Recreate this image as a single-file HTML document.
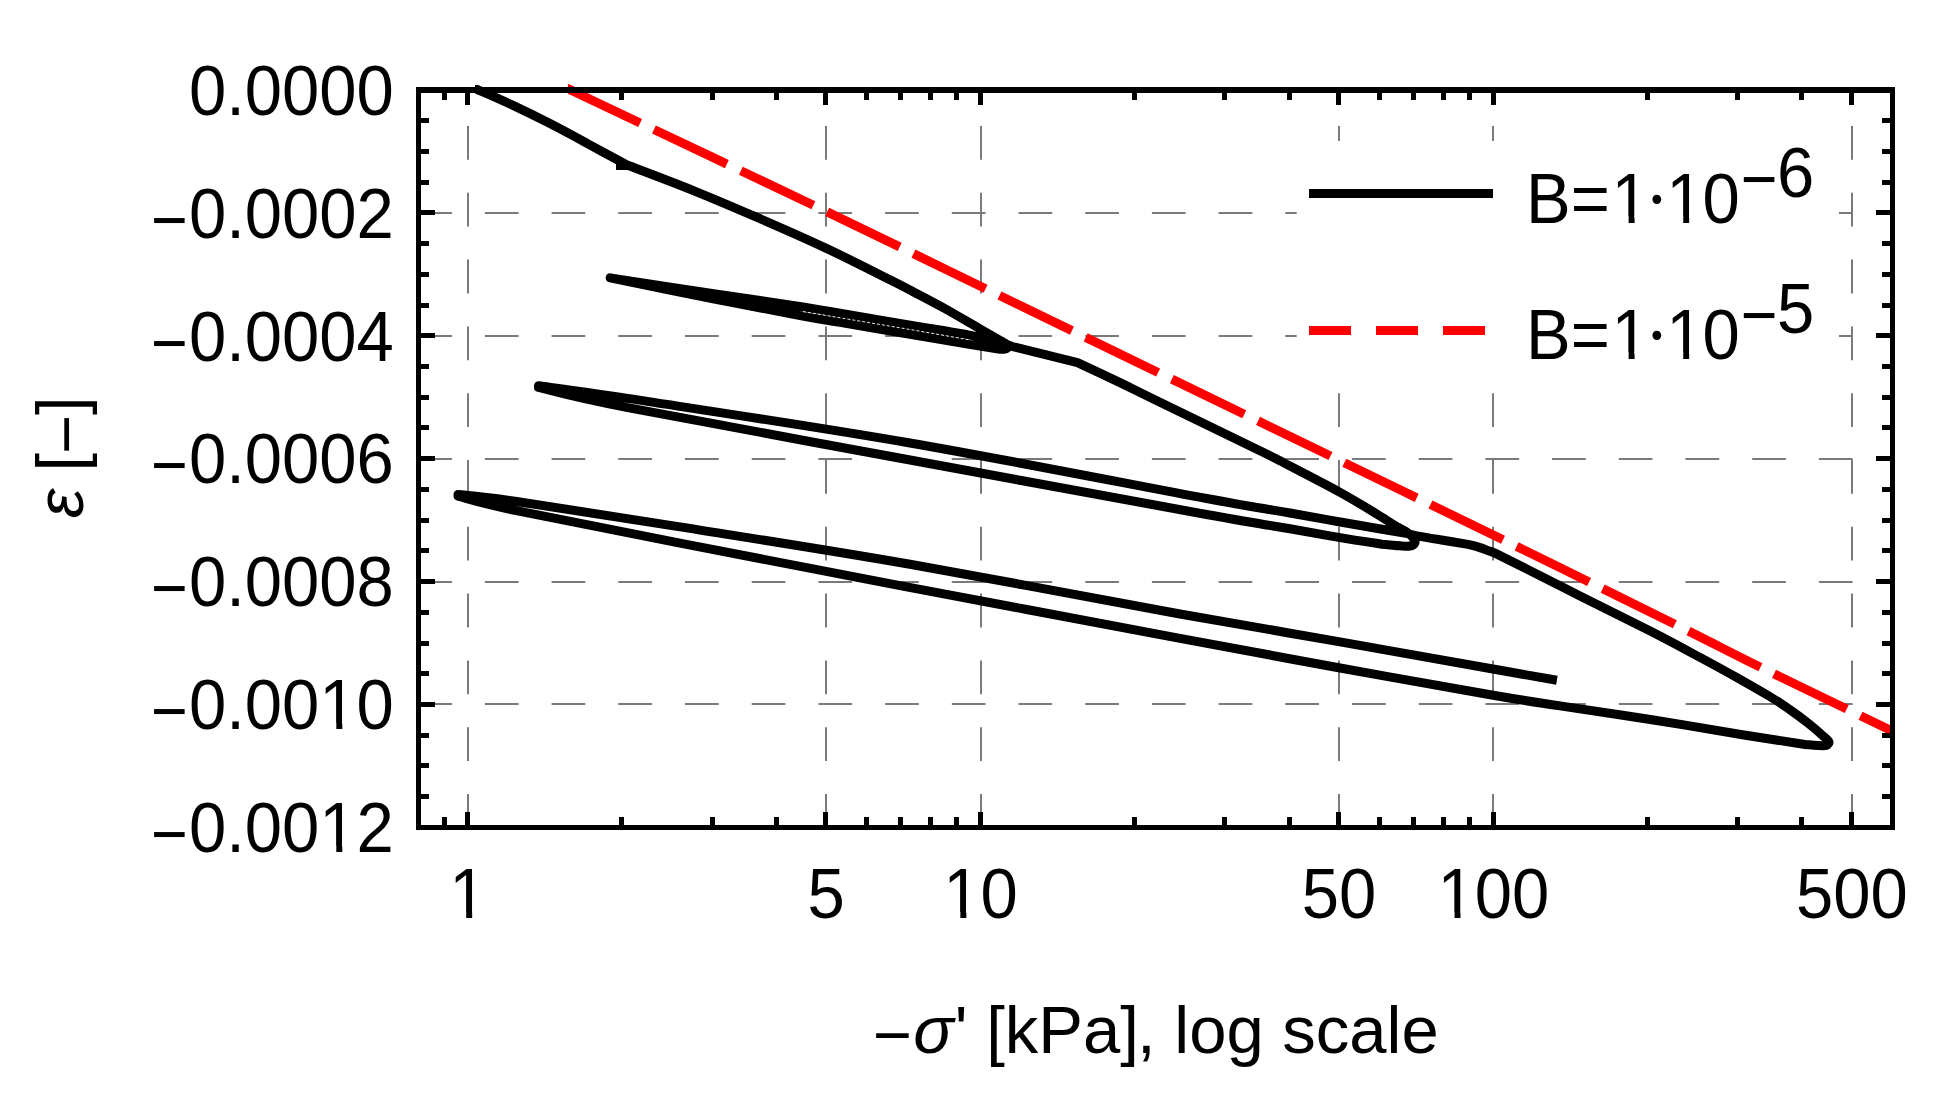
<!DOCTYPE html>
<html lang="en"><head><meta charset="utf-8"><title>Strain vs stress, log scale</title>
<style>html,body{margin:0;padding:0;background:#fff}body{width:1958px;height:1109px;overflow:hidden}svg{display:block}text{font-family:"Liberation Sans",sans-serif;font-size:67px;fill:#000}</style>
</head><body>
<svg width="1958" height="1109" viewBox="0 0 1958 1109">
<rect x="0" y="0" width="1958" height="1109" fill="#fff"/>
<g id="grid" stroke="#7a7a7a" stroke-width="2" stroke-dasharray="33.7 33" fill="none">
<line x1="468" y1="827.8" x2="468" y2="90" stroke-dasharray="33.8 33"/>
<line x1="826" y1="827.8" x2="826" y2="90" stroke-dasharray="33.8 33"/>
<line x1="981" y1="827.8" x2="981" y2="90" stroke-dasharray="33.8 33"/>
<line x1="1339" y1="827.8" x2="1339" y2="90" stroke-dasharray="33.8 33"/>
<line x1="1493" y1="827.8" x2="1493" y2="90" stroke-dasharray="33.8 33"/>
<line x1="1852" y1="827.8" x2="1852" y2="90" stroke-dasharray="33.8 33"/>
<line x1="418.2" y1="213" x2="1893" y2="213"/>
<line x1="418.2" y1="336" x2="1893" y2="336"/>
<line x1="418.2" y1="459" x2="1893" y2="459"/>
<line x1="418.2" y1="582" x2="1893" y2="582"/>
<line x1="418.2" y1="704" x2="1893" y2="704"/>
</g>
<rect id="legendbg" x="1296.7" y="141" width="542.3" height="252" fill="#fff"/>
<defs><clipPath id="plotclip"><rect x="418.5" y="80" width="1474" height="747"/></clipPath><clipPath id="clipB"><path d="M475 85H1892.5V827H418.5V130H475Z"/></clipPath><clipPath id="clipR"><rect x="567.9" y="80" width="1324.6" height="747"/></clipPath></defs>
<g id="curves" clip-path="url(#plotclip)" fill="none" stroke-linejoin="round" stroke-linecap="butt">
<g clip-path="url(#clipR)"><path id="series2" d="M567.5 88.6 C610.7 109.1 754.7 177.1 826.6 211.6 C898.5 246.1 941.6 267.4 999.0 295.3 C1056.4 323.2 1113.8 350.9 1171.2 378.8 C1228.7 406.6 1286.2 434.6 1343.8 462.5 C1401.2 490.4 1461.0 519.2 1516.2 546.2 C1571.5 573.2 1634.7 604.4 1675.3 624.5 C1715.9 644.6 1731.5 653.0 1760.0 667.0 C1788.5 681.0 1824.0 698.0 1846.2 708.8 C1868.4 719.5 1882.4 726.3 1893.0 731.5 C1903.6 736.7 1907.2 738.4 1910.0 739.8" stroke="#f00" stroke-width="9.0" stroke-dasharray="80.5 15.3"/><path d="M563 86.5L572 90.7" stroke="#f00" stroke-width="9.0"/></g>
<g id="series1" stroke="#000" stroke-width="9.0" clip-path="url(#clipB)">
<path d="M466.0 84.4 C467.8 85.2 469.2 85.8 477.0 89.3 C484.8 92.8 500.3 99.5 512.5 105.2 C524.7 110.9 537.5 117.2 550.0 123.6 C562.5 130.0 574.8 136.7 587.5 143.6 C600.2 150.5 620.0 161.3 626.5 164.8 C637.8 169.1 671.8 181.8 694.0 190.8 C716.2 199.8 738.0 209.1 760.0 218.7 C782.0 228.2 804.2 237.9 825.8 248.1 C847.4 258.2 875.0 272.3 889.5 279.6 C904.0 286.9 903.9 286.9 913.1 291.7 C922.4 296.5 933.9 302.5 945.0 308.6 C956.1 314.8 970.3 323.3 979.5 328.6 C988.7 333.9 995.4 337.6 1000.0 340.3 C1004.6 343.0 1005.7 343.6 1007.0 344.8 C1008.3 346.0 1008.4 346.6 1008.0 347.3 C1007.6 348.0 1005.8 348.9 1004.5 349.2 C1003.2 349.5 1000.8 349.3 1000.0 349.3 C995.1 348.5 985.3 347.0 970.8 344.6 C956.3 342.2 934.9 338.5 913.1 334.8 C891.3 331.1 858.4 325.5 840.0 322.4 C821.6 319.3 823.2 319.9 802.8 316.1 C782.2 312.3 749.1 306.0 717.0 299.6 C684.9 293.2 628.0 281.5 610.2 277.9 C628.0 280.6 684.9 289.3 717.0 294.1 C749.1 298.9 782.2 303.7 802.8 306.9 C823.2 310.1 821.6 310.1 840.0 313.2 C858.4 316.3 891.3 321.9 913.1 325.6 C934.9 329.3 956.3 332.7 970.8 335.4 C985.3 338.1 993.1 340.1 1000.0 342.0 C1006.9 343.9 1010.0 345.8 1012.0 346.5 L1077.5 362.6 C1084.6 365.9 1106.2 376.0 1120.0 382.6 C1133.8 389.2 1136.3 390.7 1160.0 402.2 C1183.7 413.7 1240.3 441.2 1262.0 451.8 C1283.7 462.4 1281.2 461.5 1290.0 466.0 C1298.8 470.5 1306.9 474.7 1315.0 479.0 C1323.1 483.3 1331.2 487.5 1338.7 491.6 C1346.2 495.7 1353.7 500.1 1360.0 503.8 C1366.3 507.5 1370.1 510.0 1376.5 513.9 C1382.9 517.8 1393.2 524.4 1398.2 527.4 C1403.2 530.4 1404.1 530.0 1406.8 532.0 C1409.5 534.0 1413.0 537.6 1414.3 539.5 C1415.6 541.4 1415.2 542.4 1414.5 543.5 C1413.8 544.6 1412.4 545.6 1410.0 546.0 C1407.6 546.4 1404.7 546.1 1400.0 545.8 C1395.3 545.5 1385.0 544.5 1382.0 544.2 C1374.8 543.1 1354.0 540.0 1338.7 537.4 C1323.4 534.8 1312.0 532.5 1290.0 528.7 C1268.0 524.9 1269.9 526.0 1206.6 514.5 C1143.3 503.1 1006.5 477.8 910.0 460.0 C813.5 442.2 689.6 419.7 627.7 407.6 C565.8 395.5 553.4 390.8 538.5 387.4 L538.5 385.8 C553.4 387.9 565.8 388.9 627.7 398.4 C689.6 408.0 813.5 426.3 910.0 443.0 C1006.5 459.7 1143.3 486.8 1206.6 498.5 C1269.9 510.2 1268.0 509.1 1290.0 513.0 C1312.0 516.9 1323.4 519.0 1338.7 521.7 C1354.0 524.4 1370.5 527.2 1382.0 529.2 C1393.5 531.2 1403.2 532.9 1407.5 533.6 C1409.5 534.0 1414.4 535.3 1419.8 536.3 C1425.2 537.3 1432.0 538.4 1440.0 539.7 C1448.0 541.1 1463.3 543.6 1468.0 544.4 C1469.5 544.8 1473.7 545.6 1477.0 546.6 C1480.3 547.6 1484.2 549.1 1488.0 550.6 C1491.8 552.1 1489.8 550.6 1500.0 555.6 C1510.2 560.6 1536.2 573.8 1549.5 580.5 C1562.8 587.2 1562.9 587.3 1580.0 595.9 C1597.1 604.5 1632.2 621.9 1652.2 632.1 C1672.2 642.4 1686.0 649.9 1700.0 657.4 C1714.0 664.9 1724.1 670.4 1736.1 677.2 C1748.1 684.0 1763.2 692.6 1772.2 698.0 C1781.2 703.4 1784.0 705.6 1790.0 709.8 C1796.0 714.0 1802.9 719.1 1808.2 723.3 C1813.5 727.5 1818.4 731.8 1821.8 734.8 C1825.2 737.8 1827.4 739.4 1828.4 741.0 C1829.4 742.6 1828.7 743.7 1827.8 744.5 C1826.9 745.3 1826.8 745.7 1823.0 745.7 C1819.2 745.7 1808.1 744.7 1805.1 744.5 C1794.9 742.9 1769.4 739.1 1743.9 735.0 C1718.4 730.9 1682.6 724.6 1651.9 719.7 C1621.2 714.9 1586.5 710.0 1560.0 705.9 C1533.5 701.8 1530.1 701.6 1493.2 695.2 C1456.3 688.8 1390.9 677.2 1338.7 667.7 C1286.5 658.2 1253.1 652.0 1180.0 638.3 C1106.9 624.6 983.3 601.4 900.0 585.6 C816.7 569.8 744.2 555.8 680.0 543.2 C615.8 530.7 552.0 518.2 515.0 510.4 C478.0 502.5 467.5 498.5 458.0 496.1 L458.0 494.5 C467.5 495.6 478.0 495.8 515.0 501.2 C552.0 506.6 614.2 516.4 680.0 526.9 C745.8 537.4 826.7 549.8 910.0 564.3 C993.3 578.8 1108.5 601.1 1180.0 614.0 C1251.5 626.9 1285.4 632.2 1338.7 641.6 C1392.0 651.0 1463.6 663.8 1500.0 670.3 C1536.4 676.8 1547.4 678.6 1556.9 680.3"/>
<path d="M616 166H630" stroke-width="8.2"/>
</g>
<path d="M803 311.6L840 317.8L913 330L971 340.1" stroke="#fff" stroke-width="0.9" stroke-dasharray="3 2"/>
</g>
<g id="ticks" stroke="#000" stroke-width="5" fill="none">
<path d="M467.5 827.5V812.0M467.5 90.0V105.0"/>
<path d="M825.5 827.5V812.0M825.5 90.0V105.0"/>
<path d="M980.5 827.5V812.0M980.5 90.0V105.0"/>
<path d="M1338.5 827.5V812.0M1338.5 90.0V105.0"/>
<path d="M1493.5 827.5V812.0M1493.5 90.0V105.0"/>
<path d="M1851.5 827.5V812.0M1851.5 90.0V105.0"/>
<path d="M444.5 827.5V817.0M444.5 90.0V100.0"/>
<path d="M621.5 827.5V817.0M621.5 90.0V100.0"/>
<path d="M712.5 827.5V817.0M712.5 90.0V100.0"/>
<path d="M776.5 827.5V817.0M776.5 90.0V100.0"/>
<path d="M866.5 827.5V817.0M866.5 90.0V100.0"/>
<path d="M900.5 827.5V817.0M900.5 90.0V100.0"/>
<path d="M930.5 827.5V817.0M930.5 90.0V100.0"/>
<path d="M956.5 827.5V817.0M956.5 90.0V100.0"/>
<path d="M1134.5 827.5V817.0M1134.5 90.0V100.0"/>
<path d="M1224.5 827.5V817.0M1224.5 90.0V100.0"/>
<path d="M1289.5 827.5V817.0M1289.5 90.0V100.0"/>
<path d="M1379.5 827.5V817.0M1379.5 90.0V100.0"/>
<path d="M1413.5 827.5V817.0M1413.5 90.0V100.0"/>
<path d="M1443.5 827.5V817.0M1443.5 90.0V100.0"/>
<path d="M1469.5 827.5V817.0M1469.5 90.0V100.0"/>
<path d="M1647.5 827.5V817.0M1647.5 90.0V100.0"/>
<path d="M1737.5 827.5V817.0M1737.5 90.0V100.0"/>
<path d="M1801.5 827.5V817.0M1801.5 90.0V100.0"/>
<path d="M418.5 90.5H435.0M1892.5 90.5H1876.0"/>
<path d="M418.5 120.5H429.0M1892.5 120.5H1882.0"/>
<path d="M418.5 151.5H429.0M1892.5 151.5H1882.0"/>
<path d="M418.5 182.5H429.0M1892.5 182.5H1882.0"/>
<path d="M418.5 212.5H435.0M1892.5 212.5H1876.0"/>
<path d="M418.5 243.5H429.0M1892.5 243.5H1882.0"/>
<path d="M418.5 274.5H429.0M1892.5 274.5H1882.0"/>
<path d="M418.5 305.5H429.0M1892.5 305.5H1882.0"/>
<path d="M418.5 335.5H435.0M1892.5 335.5H1876.0"/>
<path d="M418.5 366.5H429.0M1892.5 366.5H1882.0"/>
<path d="M418.5 397.5H429.0M1892.5 397.5H1882.0"/>
<path d="M418.5 427.5H429.0M1892.5 427.5H1882.0"/>
<path d="M418.5 458.5H435.0M1892.5 458.5H1876.0"/>
<path d="M418.5 489.5H429.0M1892.5 489.5H1882.0"/>
<path d="M418.5 520.5H429.0M1892.5 520.5H1882.0"/>
<path d="M418.5 550.5H429.0M1892.5 550.5H1882.0"/>
<path d="M418.5 581.5H435.0M1892.5 581.5H1876.0"/>
<path d="M418.5 612.5H429.0M1892.5 612.5H1882.0"/>
<path d="M418.5 643.5H429.0M1892.5 643.5H1882.0"/>
<path d="M418.5 673.5H429.0M1892.5 673.5H1882.0"/>
<path d="M418.5 704.5H435.0M1892.5 704.5H1876.0"/>
<path d="M418.5 735.5H429.0M1892.5 735.5H1882.0"/>
<path d="M418.5 765.5H429.0M1892.5 765.5H1882.0"/>
<path d="M418.5 796.5H429.0M1892.5 796.5H1882.0"/>
<path d="M418.5 827.5H435.0M1892.5 827.5H1876.0"/>
</g>
<rect id="frame" x="418.5" y="90.0" width="1474.0" height="737.5" fill="none" stroke="#000" stroke-width="5"/>
<line id="frametop" x1="416" y1="90" x2="1895" y2="90" stroke="#000" stroke-width="6"/>
<defs><clipPath id="one"><path d="M0 -60H40V-6H23V1H17V-6H0Z"/></clipPath></defs>
<g id="ylabels">
<text transform="translate(188.91 114.7) scale(1 1.050)">0.0000</text>
<text transform="translate(150.69 243.6) scale(0.94 1.050)">−</text>
<text transform="translate(188.91 237.6) scale(1 1.050)">0.0002</text>
<text transform="translate(150.69 366.5) scale(0.94 1.050)">−</text>
<text transform="translate(188.91 360.5) scale(1 1.050)">0.0004</text>
<text transform="translate(150.69 489.4) scale(0.94 1.050)">−</text>
<text transform="translate(188.91 483.4) scale(1 1.050)">0.0006</text>
<text transform="translate(150.69 612.3) scale(0.94 1.050)">−</text>
<text transform="translate(188.91 606.3) scale(1 1.050)">0.0008</text>
<text transform="translate(150.69 735.2) scale(0.94 1.050)">−</text>
<text transform="translate(188.91 729.2) scale(1 1.050)">0.00</text>
<text transform="translate(319.30 729.2) scale(1 1.050)" clip-path="url(#one)">1</text>
<text transform="translate(356.55 729.2) scale(1 1.050)">0</text>
<text transform="translate(150.69 858.1) scale(0.94 1.050)">−</text>
<text transform="translate(188.91 852.1) scale(1 1.050)">0.00</text>
<text transform="translate(319.30 852.1) scale(1 1.050)" clip-path="url(#one)">1</text>
<text transform="translate(356.55 852.1) scale(1 1.050)">2</text>
</g>
<g id="xlabels">
<text transform="translate(449.17 918.3) scale(1 1.050)" clip-path="url(#one)">1</text>
<text transform="translate(807.61 918.3) scale(1 1.050)">5</text>
<text transform="translate(943.35 918.3) scale(1 1.050)" clip-path="url(#one)">1</text>
<text transform="translate(980.60 918.3) scale(1 1.050)">0</text>
<text transform="translate(1301.78 918.3) scale(1 1.050)">50</text>
<text transform="translate(1437.52 918.3) scale(1 1.050)" clip-path="url(#one)">1</text>
<text transform="translate(1474.77 918.3) scale(1 1.050)">00</text>
<text transform="translate(1795.95 918.3) scale(1 1.050)">500</text>
</g>
<text id="xtitle" x="1155.7" y="1052.7" text-anchor="middle"><tspan dy="5.6">−</tspan><tspan dy="-5.6" dx="1.5" font-style="italic">σ</tspan><tspan dx="1">' [kPa]</tspan><tspan dx="-1.8">, log scale</tspan></text>
<text id="ytitle" transform="translate(83.4 459.8) rotate(-90)" text-anchor="middle"><tspan font-style="italic" dx="2.5">ε</tspan><tspan dx="-1.3"> [</tspan><tspan dy="5.5" dx="-1">−</tspan><tspan dy="-5.5" dx="-0.2">]</tspan></text>
<g id="legend">
<line x1="1309" y1="193.5" x2="1493" y2="193.5" stroke="#000" stroke-width="9"/>
<line x1="1309" y1="330.5" x2="1493" y2="330.5" stroke="#f00" stroke-width="9" stroke-dasharray="42 25"/>
<text transform="translate(1526.00 222.6) scale(1 1.050)">B=</text>
<text transform="translate(1611.60 222.6) scale(1 1.050)" clip-path="url(#one)">1</text>
<text transform="translate(1644.6 225.0) scale(1 1.050)" style="font-family:'Liberation Serif',serif;font-size:74px">·</text>
<text transform="translate(1666.20 222.6) scale(1 1.050)" clip-path="url(#one)">1</text>
<text transform="translate(1702.60 222.6) scale(1 1.050)">0</text>
<text transform="translate(1740.50 203.0) scale(0.94 1.050)">−</text>
<text transform="translate(1777.00 196.8) scale(1 1.050)">6</text>
<text transform="translate(1526.00 358.5) scale(1 1.050)">B=</text>
<text transform="translate(1611.60 358.5) scale(1 1.050)" clip-path="url(#one)">1</text>
<text transform="translate(1644.6 360.9) scale(1 1.050)" style="font-family:'Liberation Serif',serif;font-size:74px">·</text>
<text transform="translate(1666.20 358.5) scale(1 1.050)" clip-path="url(#one)">1</text>
<text transform="translate(1702.60 358.5) scale(1 1.050)">0</text>
<text transform="translate(1740.50 338.9) scale(0.94 1.050)">−</text>
<text transform="translate(1777.00 332.7) scale(1 1.050)">5</text>
</g>
</svg>
</body></html>
